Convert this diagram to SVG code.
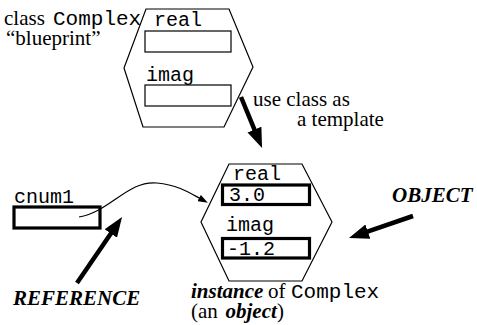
<svg xmlns="http://www.w3.org/2000/svg" width="477" height="325" viewBox="0 0 477 325">
<style>
  .times { font-family: "Liberation Serif", "Times New Roman", serif; font-size: 21px; fill: #000; }
  .bi { font-weight: bold; font-style: italic; }
  .mono { font-family: "Liberation Mono", "Courier New", monospace; font-size: 20px; fill: #000; }
  .mono21 { font-size: 21px; }
  .hex { fill: #fff; stroke: #000; stroke-width: 1.2; }
  .thin { fill: #fff; stroke: #000; stroke-width: 1.2; }
  .thick { fill: #fff; stroke: #000; stroke-width: 3.2; }
  .bigarrow { stroke: #000; stroke-width: 4.5; fill: none; marker-end: url(#bighead); }
  .curve { stroke: #000; stroke-width: 1.2; fill: none; marker-end: url(#smallhead); }
</style>
<defs>
  <marker id="bighead" markerUnits="userSpaceOnUse" markerWidth="20" markerHeight="16" refX="2" refY="7.5" orient="auto" viewBox="0 0 20 15">
    <path d="M0,0 L20,7.5 L0,15 z" fill="#000"/>
  </marker>
  <marker id="smallhead" markerUnits="userSpaceOnUse" markerWidth="10" markerHeight="7" refX="1" refY="3.5" orient="auto" viewBox="0 0 10 7">
    <path d="M0,0 L10,3.5 L0,7 z" fill="#000"/>
  </marker>
</defs>
<rect width="477" height="325" fill="#fff"/>

<g id="class-label">
  <text class="times" x="4" y="25">class</text>
  <text class="mono mono21" x="53" y="25">Complex</text>
  <text class="times" x="6" y="45">“blueprint”</text>
</g>

<g id="class-complex">
  <polygon class="hex" points="146,9 229,9 253,67 224,127 143,127 124,68"/>
  <text class="mono" x="154" y="26">real</text>
  <rect class="thin" x="145" y="31" width="86" height="21"/>
  <text class="mono" x="146" y="81">imag</text>
  <rect class="thin" x="145" y="85" width="86" height="21"/>
</g>

<g id="template-label">
  <text class="times" x="253" y="106">use class as</text>
  <text class="times" x="297" y="126">a template</text>
</g>

<g id="cnum1">
  <text class="mono" x="14" y="203">cnum1</text>
  <rect class="thick" x="14" y="207" width="86" height="21"/>
</g>

<g id="instance">
  <polygon class="hex" points="229,164 302,164 332,222 302,281 229,281 201,222"/>
  <text class="mono" x="233" y="180">real</text>
  <rect class="thick" x="222.5" y="185" width="87" height="19.5"/>
  <text class="mono" x="229" y="201">3.0</text>
  <text class="mono" x="226" y="231">imag</text>
  <rect class="thick" x="222.5" y="238.5" width="87" height="19.5"/>
  <text class="mono" x="227" y="255">-1.2</text>
</g>

<g id="instance-label">
  <text class="times bi" x="191" y="298">instance</text>
  <text class="times" x="268" y="298">of</text>
  <text class="mono mono21" x="291" y="298">Complex</text>
  <text class="times" x="191" y="318">(an</text>
  <text class="times bi" x="225.5" y="318">object</text>
  <text class="times" x="277" y="318">)</text>
</g>

<g id="object-label">
  <text class="times bi" x="392" y="202">OBJECT</text>
</g>

<g id="reference-label">
  <text class="times bi" x="13" y="305">REFERENCE</text>
</g>

<g id="connectors">
  <line class="bigarrow" x1="241" y1="97" x2="255.2" y2="131.4"/>
  <line class="bigarrow" x1="413" y1="216" x2="366" y2="232.2"/>
  <line class="bigarrow" x1="77" y1="283" x2="111.9" y2="231.9"/>
  <path class="curve" d="M79,217 C110,212 128,180 157,183 C178,185 190,193 200,198.5"/>
</g>
</svg>
